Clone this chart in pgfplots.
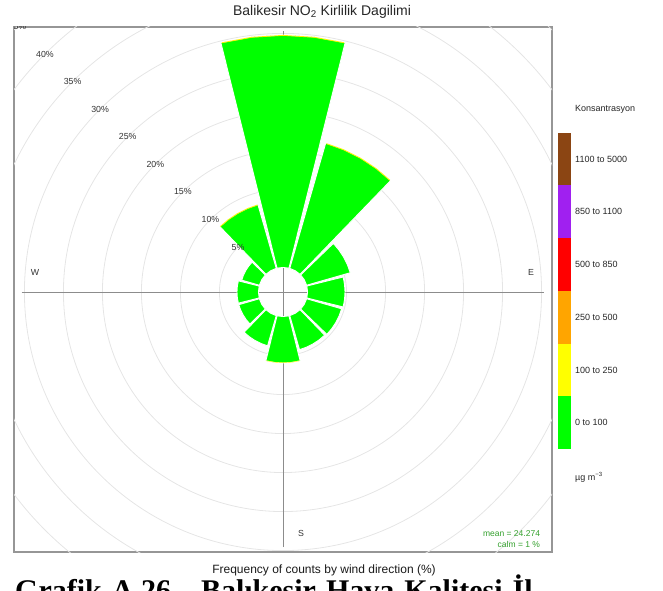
\documentclass[border=0pt]{standalone}
\usepackage{pgfplots}
\pgfplotsset{compat=1.18}
\usepackage{fontspec}
\setmainfont{Liberation Sans}
\newfontfamily\capfont{Liberation Serif}
\definecolor{gridc}{RGB}{229,229,229}
\definecolor{boxc}{RGB}{150,150,150}
\definecolor{crossc}{RGB}{140,140,140}
\definecolor{petalg}{RGB}{0,255,0}
\definecolor{meang}{RGB}{51,160,44}
\definecolor{c1}{RGB}{0,255,0}
\definecolor{c2}{RGB}{255,255,0}
\definecolor{c3}{RGB}{255,165,0}
\definecolor{c4}{RGB}{255,0,0}
\definecolor{c5}{RGB}{160,32,240}
\definecolor{c6}{RGB}{139,69,19}
\pgfplotsset{
  petal/.style={fill=petalg, draw=white, line width=0.9pt, data cs=polar},
  rim/.style={draw=yellow, line width=0.8pt, data cs=polar},
}
\tikzset{lbl/.style={font=\fontsize{8.8}{10}\selectfont, text=black!80}}
\begin{document}
\begin{tikzpicture}[x=1pt,y=1pt]
\begin{axis}[
  at={(14pt,38pt)}, anchor=south west,
  scale only axis, width=538pt, height=525pt,
  xmin=-34.487, xmax=34.487, ymin=-33.333, ymax=33.974,
  xtick=\empty, ytick=\empty,
  axis line style={draw=boxc, line width=1.2pt},
]
% grid circles (5% steps, calm offset 3.15)
\draw[gridc, line width=0.8pt] (axis cs:0,0) circle[radius=63.57pt];
\draw[gridc, line width=0.8pt] (axis cs:0,0) circle[radius=102.57pt];
\draw[gridc, line width=0.8pt] (axis cs:0,0) circle[radius=141.57pt];
\draw[gridc, line width=0.8pt] (axis cs:0,0) circle[radius=180.57pt];
\draw[gridc, line width=0.8pt] (axis cs:0,0) circle[radius=219.57pt];
\draw[gridc, line width=0.8pt] (axis cs:0,0) circle[radius=258.57pt];
\draw[gridc, line width=0.8pt] (axis cs:0,0) circle[radius=297.57pt];
\draw[gridc, line width=0.8pt] (axis cs:0,0) circle[radius=336.57pt];
\draw[gridc, line width=0.8pt] (axis cs:0,0) circle[radius=375.57pt];
% cross lines
\draw[crossc, line width=0.9pt] (axis cs:-33.5,0) -- (axis cs:33.5,0);
\draw[crossc, line width=0.9pt] (axis cs:0,-32.7) -- (axis cs:0,33.5);
% compass labels
\node[lbl] at (axis cs:-31.8,2.44) {W};
\node[lbl] at (axis cs:31.8,2.44) {E};
\node[lbl] at (axis cs:2.31,-30.9) {S};
\node[lbl] at (axis cs:-2.31,30.9) {N};
% petals: (math angle, radius = 3.15 calm offset + frequency %)
\addplot[petal] coordinates {(76,3.15) (76,32.95) (83,32.95) (90,32.95) (97,32.95) (104,32.95) (104,3.15) (90,3.15)} -- cycle;
\addplot[petal] coordinates {(46,3.15) (46,19.87) (53,19.87) (60,19.87) (67,19.87) (74,19.87) (74,3.15) (60,3.15)} -- cycle;
\addplot[petal] coordinates {(16,3.15) (16,8.97) (23,8.97) (30,8.97) (37,8.97) (44,8.97) (44,3.15) (30,3.15)} -- cycle;
\addplot[petal] coordinates {(-14,3.15) (-14,7.95) (-7,7.95) (0,7.95) (7,7.95) (14,7.95) (14,3.15) (0,3.15)} -- cycle;
\addplot[petal] coordinates {(-44,3.15) (-44,7.82) (-37,7.82) (-30,7.82) (-23,7.82) (-16,7.82) (-16,3.15) (-30,3.15)} -- cycle;
\addplot[petal] coordinates {(-74,3.15) (-74,7.69) (-67,7.69) (-60,7.69) (-53,7.69) (-46,7.69) (-46,3.15) (-60,3.15)} -- cycle;
\addplot[petal] coordinates {(-104,3.15) (-104,9.10) (-97,9.10) (-90,9.10) (-83,9.10) (-76,9.10) (-76,3.15) (-90,3.15)} -- cycle;
\addplot[petal] coordinates {(-134,3.15) (-134,7.18) (-127,7.18) (-120,7.18) (-113,7.18) (-106,7.18) (-106,3.15) (-120,3.15)} -- cycle;
\addplot[petal] coordinates {(-164,3.15) (-164,5.90) (-157,5.90) (-150,5.90) (-143,5.90) (-136,5.90) (-136,3.15) (-150,3.15)} -- cycle;
\addplot[petal] coordinates {(166,3.15) (166,5.90) (173,5.90) (180,5.90) (187,5.90) (194,5.90) (194,3.15) (180,3.15)} -- cycle;
\addplot[petal] coordinates {(136,3.15) (136,5.51) (143,5.51) (150,5.51) (157,5.51) (164,5.51) (164,3.15) (150,3.15)} -- cycle;
\addplot[petal] coordinates {(106,3.15) (106,11.67) (113,11.67) (120,11.67) (127,11.67) (134,11.67) (134,3.15) (120,3.15)} -- cycle;
% thin 100-250 rims
\addplot[rim] coordinates {(76.2,32.9) (83,32.9) (90,32.9) (97,32.9) (103.8,32.9)};
\addplot[rim] coordinates {(46.3,19.82) (53,19.82) (60,19.82) (67,19.82) (73.7,19.82)};
\addplot[rim] coordinates {(106.3,11.62) (113,11.62) (120,11.62) (127,11.62) (133.7,11.62)};
\addplot[rim, line width=0.4pt] coordinates {(-103.7,9.07) (-97,9.07) (-90,9.07) (-83,9.07) (-76.3,9.07)};
% percentage labels
\node[lbl] at (axis cs:-5.763,5.763) {5\%};
\node[lbl] at (axis cs:-9.298,9.298) {10\%};
\node[lbl] at (axis cs:-12.834,12.834) {15\%};
\node[lbl] at (axis cs:-16.369,16.369) {20\%};
\node[lbl] at (axis cs:-19.905,19.905) {25\%};
\node[lbl] at (axis cs:-23.441,23.441) {30\%};
\node[lbl] at (axis cs:-26.976,26.976) {35\%};
\node[lbl] at (axis cs:-30.512,30.512) {40\%};
\node[lbl] at (axis cs:-34.047,34.047) {45\%};
% mean / calm
\node[anchor=east, font=\fontsize{8.5}{10}\selectfont, text=meang] at (axis cs:33.4,-31.0) {mean = 24.274};
\node[anchor=east, font=\fontsize{8.5}{10}\selectfont, text=meang] at (axis cs:33.4,-32.4) {calm = 1 \%};
\end{axis}
% colour key
\fill[c1] (558,141.0) rectangle (571,193.7);
\fill[c2] (558,193.7) rectangle (571,246.4);
\fill[c3] (558,246.4) rectangle (571,299.1);
\fill[c4] (558,299.1) rectangle (571,351.8);
\fill[c5] (558,351.8) rectangle (571,404.5);
\fill[c6] (558,404.5) rectangle (571,457.2);
\begin{scope}[every node/.style={anchor=west, font=\fontsize{9}{11}\selectfont, text=black!85, inner sep=0pt}]
\node at (575,167.4) {0 to 100};
\node at (575,220.1) {100 to 250};
\node at (575,272.8) {250 to 500};
\node at (575,325.5) {500 to 850};
\node at (575,378.2) {850 to 1100};
\node at (575,430.9) {1100 to 5000};
\node at (575,481) {Konsantrasyon};
\node at (575,113) {µg m\textsuperscript{−3}};
\end{scope}
% titles
\node[font=\fontsize{14}{16}\selectfont, text=black!85] at (322,578) {Balikesir NO\textsubscript{2} Kirlilik Dagilimi};
\node[font=\fontsize{12}{14}\selectfont, text=black!90] at (324,20) {Frequency of counts by wind direction (\%)};
\node[anchor=base west, inner sep=0pt, font=\capfont\bfseries\fontsize{30}{34}\selectfont] at (15,-10) {\spaceskip=10pt plus 1pt Grafik A.26 - Balıkesir Hava Kalitesi İl};
\pgfresetboundingbox
\useasboundingbox (0,0) rectangle (663,590);
\end{tikzpicture}
\end{document}
